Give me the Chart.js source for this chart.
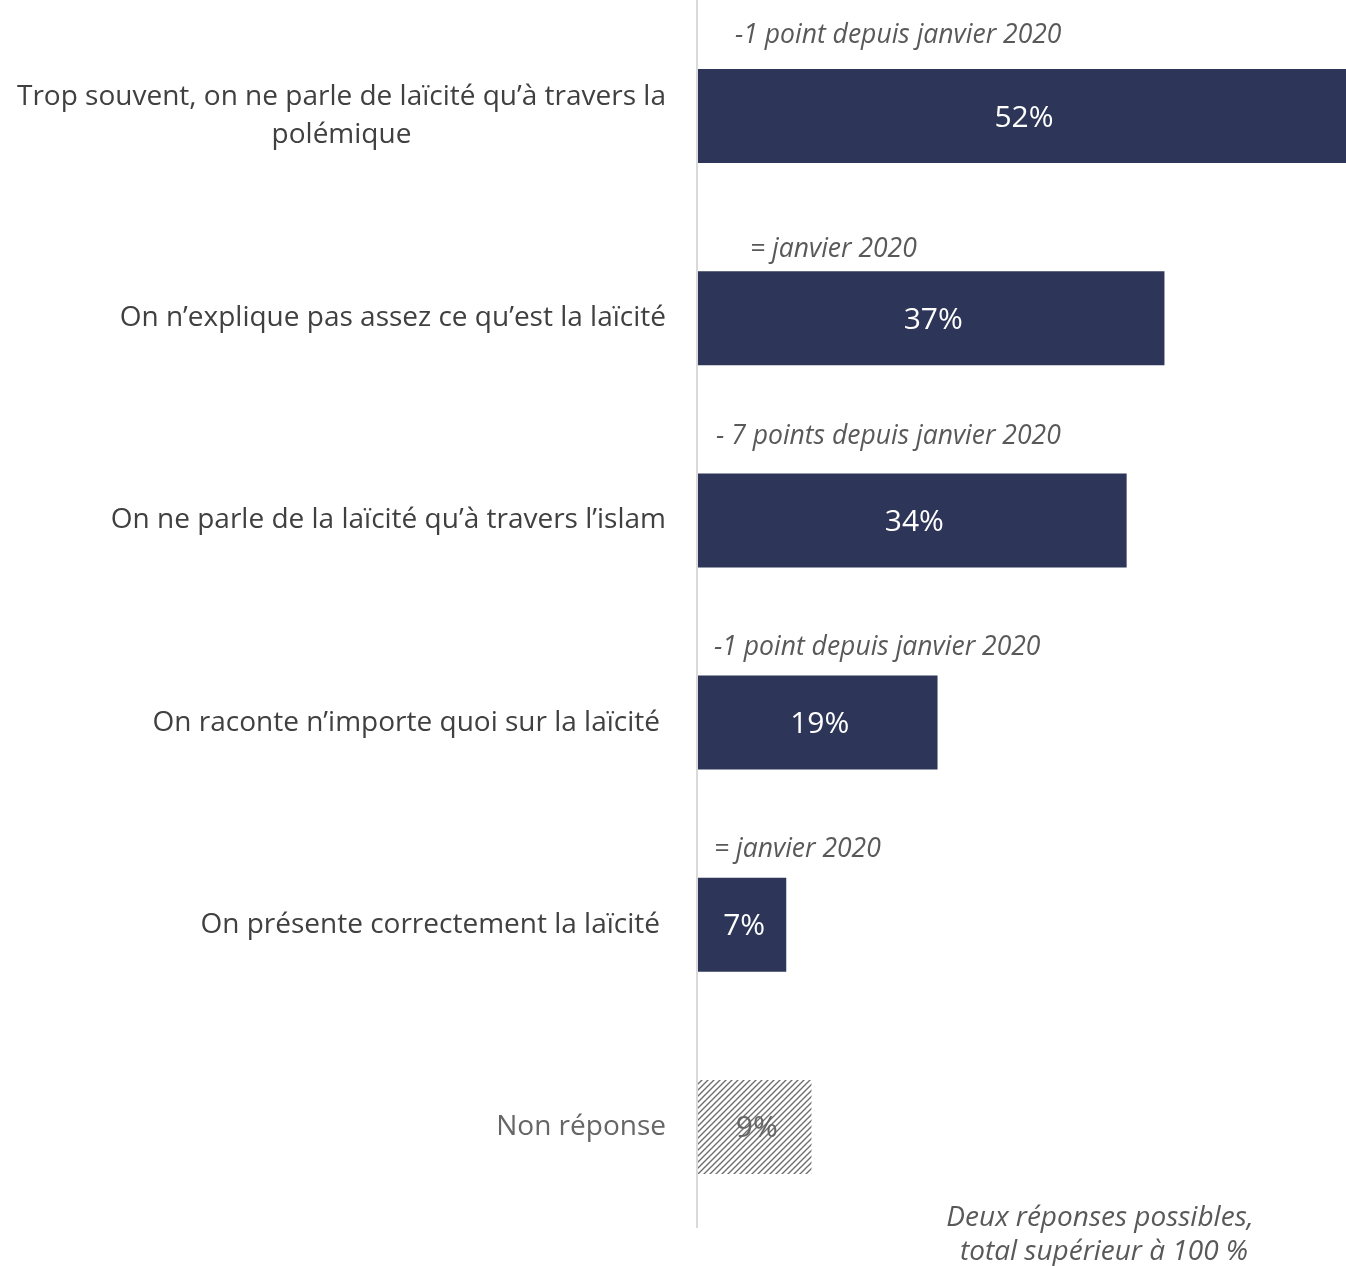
<!DOCTYPE html>
<html>
<head>
<meta charset="utf-8">
<script src="https://cdn.jsdelivr.net/npm/chart.js@4.4.1/dist/chart.umd.min.js"></script>
<style>
  html, body { margin:0; padding:0; background:#fff; }
  #wrap { width:1346px; height:1266px; position:relative; }
</style>
</head>
<body>
<div id="wrap"><canvas id="chart"></canvas></div>
<script>
// ── Data ──────────────────────────────────────────────────────────────────────
const categories = [
  ['Trop souvent, on ne parle de laïcité qu’à travers la', 'polémique'],
  'On n’explique pas assez ce qu’est la laïcité',
  'On ne parle de la laïcité qu’à travers l’islam',
  'On raconte n’importe quoi sur la laïcité',
  'On présente correctement la laïcité',
  'Non réponse'
];
const values = [52, 37, 34, 19, 7, 9];
const trends = [
  '-1 point depuis janvier 2020',
  '= janvier 2020',
  '- 7 points depuis janvier 2020',
  '-1 point depuis janvier 2020',
  '= janvier 2020',
  ''
];
const noAnswerIndex = 5;
const footnote = ['Deux réponses possibles,', 'total supérieur à 100 %'];

// ── Styles ────────────────────────────────────────────────────────────────────
const NAVY = '#2d3658';
const FONT = '"Open Sans", Lato, sans-serif';
// small per-row nudges for the trend notes (dx from axis, dy above bar top)
const TREND_POS = [[37,34],[52,22],[18,37],[16,28],[16,28],[0,0]];
// right edge of each category label
const LABEL_RIGHT = [666, 666, 666, 660, 660, 666];

function hatch(){
  const c = document.createElement('canvas');
  c.width = 6; c.height = 6;
  const g = c.getContext('2d');
  g.fillStyle = '#fff'; g.fillRect(0,0,6,6);
  g.strokeStyle = '#6e6e6e'; g.lineWidth = 1.4;
  g.beginPath();
  g.moveTo(0,6); g.lineTo(6,0);
  g.moveTo(-3,3); g.lineTo(3,-3);
  g.moveTo(3,9); g.lineTo(9,3);
  g.stroke();
  return g.createPattern(c, 'repeat');
}

const ctx = document.getElementById('chart').getContext('2d');
const bg = values.map((v,i) => i === noAnswerIndex ? hatch() : NAVY);

// ── Custom drawing: labels, axis line, values, notes ─────────────────────────
const decor = {
  id:'decor',
  afterDatasetsDraw(chart){
    const c = chart.ctx, area = chart.chartArea;
    const meta = chart.getDatasetMeta(0);
    const ys = chart.scales.y;
    c.save();

    // axis line
    c.strokeStyle = '#d9d9d9'; c.lineWidth = 2;
    c.beginPath(); c.moveTo(area.left - 1, 0); c.lineTo(area.left - 1, area.bottom); c.stroke();

    // category labels
    c.font = `500 28px ${FONT}`;
    c.textBaseline = 'middle';
    categories.forEach((lab, i) => {
      const y = ys.getPixelForValue(i);
      c.fillStyle = i === noAnswerIndex ? '#666' : '#404040';
      if (Array.isArray(lab)) {
        c.textAlign = 'center';
        const w = c.measureText(lab[0]).width;
        const cx = LABEL_RIGHT[i] - w/2;
        lab.forEach((l, k) => c.fillText(l, cx, y + (k - (lab.length-1)/2) * 38));
      } else {
        c.textAlign = 'right';
        c.fillText(lab, LABEL_RIGHT[i], y);
      }
    });

    // values inside bars
    c.font = `30px ${FONT}`;
    c.textAlign = 'center';
    meta.data.forEach((bar, i) => {
      const right = Math.min(bar.x, area.right);
      c.fillStyle = i === noAnswerIndex ? '#666' : '#fff';
      c.fillText(values[i] + '%', (bar.base + right)/2 + 2, bar.y + 2);
    });

    // trend notes
    c.font = `italic 26.5px ${FONT}`;
    c.fillStyle = '#595959';
    c.textAlign = 'left';
    meta.data.forEach((bar, i) => {
      if (!trends[i]) return;
      const top = bar.y - bar.height/2;
      c.fillText(trends[i], area.left + TREND_POS[i][0], top - TREND_POS[i][1]);
    });

    // footnote
    c.font = `italic 28px ${FONT}`;
    c.textAlign = 'center';
    footnote.forEach((l, k) => c.fillText(l, 1100 + k*4, 1218 + k*34));
    c.restore();
  }
};

new Chart(ctx, {
  type:'bar',
  data:{ labels: categories, datasets:[{
    data: values, backgroundColor: bg, borderWidth:0,
    barPercentage:0.465, categoryPercentage:1
  }]},
  options:{
    indexAxis:'y',
    responsive:true, maintainAspectRatio:false, animation:false,
    layout:{ padding:{ left:698, right:0, top:15, bottom:38 } },
    plugins:{ legend:{ display:false }, tooltip:{ enabled:false } },
    scales:{
      x:{ display:false, min:0, max:51.4 },
      y:{ display:false }
    }
  },
  plugins:[decor]
});
</script>
</body>
</html>
